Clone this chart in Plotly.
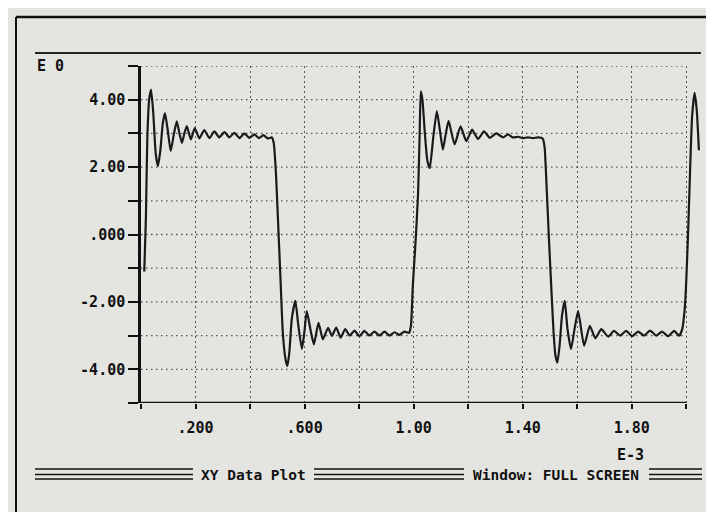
import plotly.graph_objects as go

# ---------------- data ----------------
# time in ms (axis shows values x E-3), voltage in V
time_ms = [
    0.012, 0.018, 0.023, 0.030, 0.037, 0.045, 0.054, 0.062, 0.071, 0.080,
    0.088, 0.098, 0.109, 0.120, 0.131, 0.141, 0.150, 0.159, 0.168, 0.183,
    0.197, 0.214, 0.232, 0.251, 0.269, 0.287, 0.306, 0.324, 0.342, 0.361,
    0.379, 0.397, 0.416, 0.432, 0.449, 0.465, 0.480, 0.487, 0.495, 0.502,
    0.511, 0.520, 0.530, 0.537, 0.544, 0.553, 0.566, 0.577, 0.590, 0.599,
    0.608, 0.621, 0.634, 0.651, 0.667, 0.686, 0.700, 0.716, 0.732, 0.749,
    0.765, 0.783, 0.801, 0.819, 0.838, 0.856, 0.875, 0.893, 0.911, 0.930,
    0.948, 0.966, 0.983, 0.990, 0.997, 1.007, 1.016, 1.022, 1.026, 1.032,
    1.041, 1.050, 1.059, 1.072, 1.085, 1.096, 1.107, 1.118, 1.128, 1.150,
    1.172, 1.193, 1.214, 1.236, 1.258, 1.279, 1.303, 1.328, 1.346, 1.364,
    1.383, 1.401, 1.419, 1.438, 1.456, 1.473, 1.480, 1.487, 1.497, 1.506,
    1.513, 1.520, 1.527, 1.535, 1.544, 1.554, 1.564, 1.577, 1.590, 1.603,
    1.625, 1.646, 1.666, 1.688, 1.713, 1.735, 1.757, 1.779, 1.801, 1.823,
    1.845, 1.867, 1.889, 1.911, 1.933, 1.955, 1.974, 1.985, 1.994, 1.999,
    2.007, 2.014, 2.021, 2.030, 2.038, 2.046,
]
voltage = [
    -1.10, 0.50, 2.80, 4.00, 4.30, 3.60, 2.40, 2.03, 2.50, 3.30,
    3.60, 3.10, 2.48, 2.95, 3.36, 3.00, 2.72, 3.00, 3.22, 2.82,
    3.16, 2.85, 3.10, 2.86, 3.06, 2.88, 3.04, 2.88, 3.02, 2.86,
    3.00, 2.87, 2.97, 2.86, 2.95, 2.85, 2.88, 2.70, 1.80, 0.50,
    -1.20, -2.90, -3.70, -3.90, -3.50, -2.50, -1.97, -2.70, -3.40, -2.90,
    -2.27, -2.80, -3.26, -2.62, -3.11, -2.77, -3.01, -2.76, -3.06, -2.81,
    -3.00, -2.85, -3.02, -2.86, -3.00, -2.88, -3.00, -2.88, -3.00, -2.90,
    -2.98, -2.88, -2.92, -2.70, -1.50, -0.20, 1.20, 3.00, 4.25, 4.00,
    3.00, 2.20, 1.97, 2.90, 3.66, 3.10, 2.52, 3.00, 3.37, 2.67,
    3.21, 2.77, 3.11, 2.83, 3.06, 2.87, 3.00, 2.88, 2.97, 2.88,
    2.90, 2.86, 2.88, 2.86, 2.88, 2.85, 2.60, 1.50, -0.30, -1.80,
    -2.90, -3.60, -3.80, -3.30, -2.40, -1.97, -2.80, -3.40, -2.80, -2.27,
    -3.30, -2.71, -3.08, -2.81, -3.03, -2.86, -3.00, -2.86, -3.02, -2.88,
    -3.00, -2.85, -3.00, -2.88, -3.02, -2.86, -3.00, -2.80, -2.20, -1.50,
    0.20, 2.00, 3.50, 4.20, 3.70, 2.50,
]

x_tick_values = [0.0, 0.2, 0.4, 0.6, 0.8, 1.0, 1.2, 1.4, 1.6, 1.8, 2.0]
x_tick_labels = ["", ".200", "", ".600", "", "1.00", "", "1.40", "", "1.80", ""]
y_tick_values = [-5, -4, -3, -2, -1, 0, 1, 2, 3, 4, 5]
y_tick_labels = ["", "-4.00", "", "-2.00", "", ".000", "", "2.00", "", "4.00", ""]
y_grid_values = [-4, -3, -2, -1, 0, 1, 2, 3, 4, 5]

x_axis_end = 2.0
x_view = [0.0, 2.05]
y_view = [-5, 5]

y_exponent_label = "E 0"
x_exponent_label = "E-3"
status_left = "XY Data Plot"
status_right = "Window: FULL SCREEN"

# ---------------- styling / layout ----------------
W, H = 714, 512
ML, MR, MT, MB = 133, 22, 58, 117
PW, PH = W - ML - MR, H - MT - MB
BG = "#e4e4e1"
INK = "#111111"
GRID = "#555555"
DOTS = "1.5px,3.5px"
FONT = "DejaVu Sans Mono"


def px_x(px):
    return (px - ML) / PW


def px_y(py):
    return (H - MB - py) / PH


fig = go.Figure()
fig.add_trace(go.Scatter(
    x=time_ms, y=voltage, mode="lines",
    line=dict(color="#1a1a1a", width=2.2, shape="spline", smoothing=0.5),
    hoverinfo="skip", showlegend=False,
))

shapes = []
# horizontal dotted grid lines (end at the right border of the plot)
for gv in y_grid_values:
    shapes.append(dict(type="line", xref="x", yref="y", x0=0, x1=x_axis_end,
                       y0=gv, y1=gv, line=dict(color=GRID, width=1.3, dash=DOTS),
                       layer="below"))
# bottom axis line
shapes.append(dict(type="line", xref="x", yref="y", x0=0, x1=x_axis_end,
                   y0=y_view[0], y1=y_view[0], line=dict(color=INK, width=2.5)))


def pline(x0, y0, x1, y1, w=2, color=INK):
    shapes.append(dict(type="line", xref="paper", yref="paper",
                       x0=px_x(x0), x1=px_x(x1), y0=px_y(y0), y1=px_y(y1),
                       line=dict(color=color, width=w)))


# screen frame
pline(8, 9, 708, 9, 2.5)
pline(8, 9, 8, 512, 2)
pline(707, 9, 707, 512, 3)
pline(27, 45, 693, 45, 2, "#222")
# status bar double lines
for yy in (461, 466.5, 471):
    pline(27, yy, 185, yy, 1.6)
    pline(306, yy, 456, yy, 1.6)
    pline(641, yy, 694, yy, 1.6)


def label(text, cx, cy, size=15):
    return dict(text=text, x=px_x(cx), y=px_y(cy), xref="paper", yref="paper",
                xanchor="center", yanchor="middle", showarrow=False,
                font=dict(family=FONT, size=size, color=INK, weight="bold"))


annotations = [
    label(y_exponent_label, 42, 58),
    label(x_exponent_label, 622, 447),
    label(status_left, 245, 466.5, 14.5),
    label(status_right, 548, 466.5, 14.5),
]

fig.update_layout(
    width=W, height=H,
    margin=dict(l=ML, r=MR, t=MT, b=MB, autoexpand=False),
    paper_bgcolor=BG, plot_bgcolor=BG,
    shapes=shapes, annotations=annotations,
    showlegend=False,
    xaxis=dict(
        range=x_view, tickmode="array", tickvals=x_tick_values, ticktext=x_tick_labels,
        ticks="outside", ticklen=5, tickwidth=2, tickcolor=INK,
        showline=False, zeroline=False,
        showgrid=True, gridcolor=GRID, gridwidth=1.3, griddash=DOTS,
        tickfont=dict(family=FONT, size=15, color=INK, weight="bold"),
        ticklabelstandoff=6,
    ),
    yaxis=dict(
        range=y_view, tickmode="array", tickvals=y_tick_values, ticktext=y_tick_labels,
        ticks="outside", ticklen=10, tickwidth=2, tickcolor=INK,
        showline=True, linecolor=INK, linewidth=2.5, zeroline=False, showgrid=False,
        tickfont=dict(family=FONT, size=15, color=INK, weight="bold"),
    ),
)

fig.write_html("out.html")
